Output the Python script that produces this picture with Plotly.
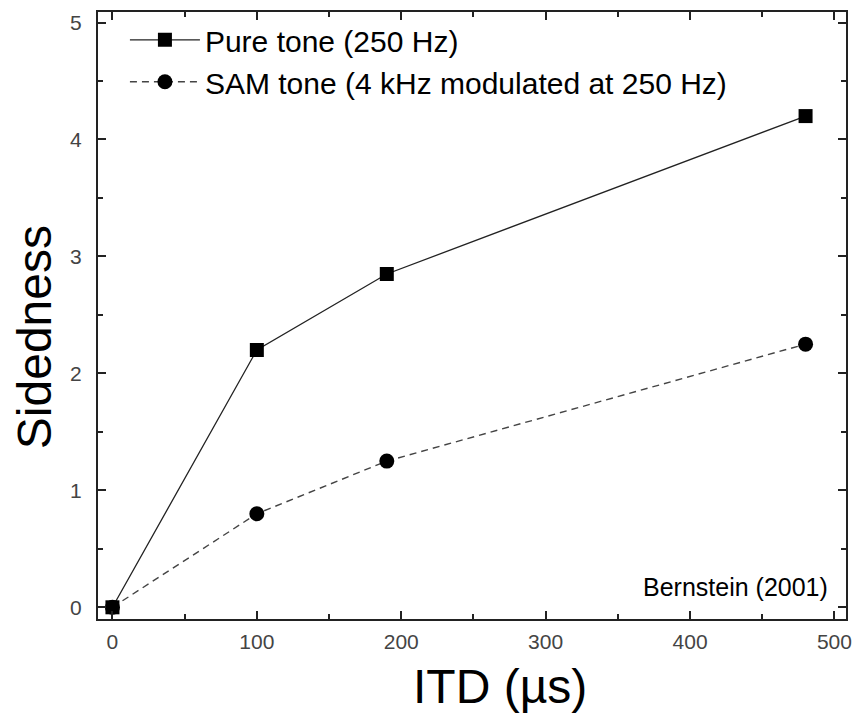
import plotly.graph_objects as go

# Interaural time difference (µs) and sidedness judgments
itd = [0, 100, 190, 480]
pure_tone = [0, 2.2, 2.85, 4.2]
sam_tone = [0, 0.8, 1.25, 2.25]

x_ticks = [0, 100, 200, 300, 400, 500]
y_ticks = [0, 1, 2, 3, 4, 5]

FONT = "Liberation Sans, Arial, sans-serif"

fig = go.Figure()
fig.add_trace(go.Scatter(
    x=itd, y=pure_tone, mode="lines+markers",
    name="Pure tone (250 Hz)",
    line=dict(color="#222222", width=1.3),
    marker=dict(symbol="square", size=14, color="black"),
))
fig.add_trace(go.Scatter(
    x=itd, y=sam_tone, mode="lines+markers",
    name="SAM tone (4 kHz modulated at 250 Hz)",
    line=dict(color="#444444", width=1.4, dash="7px,5px"),
    marker=dict(symbol="circle", size=15, color="black"),
))

axis_common = dict(
    showline=True, linecolor="#222222", linewidth=2, mirror="ticks",
    ticks="inside", ticklen=8, tickwidth=1.5, tickcolor="#222222",
    showgrid=False, zeroline=False,
    tickfont=dict(family=FONT, size=21, color="#444444"),
)

fig.update_xaxes(
    range=[-10, 508], tickvals=x_ticks,
    minor=dict(dtick=50, ticks="inside", ticklen=5, tickwidth=1.5, tickcolor="#222222"),
    ticklabelstandoff=3,
    **axis_common,
)
fig.update_yaxes(
    range=[-0.1, 5.09], tickvals=y_ticks,
    minor=dict(dtick=0.5, ticks="inside", ticklen=5, tickwidth=1.5, tickcolor="#222222"),
    ticklabelstandoff=10,
    **axis_common,
)

# Axis titles
fig.add_annotation(
    x=0.537, y=-0.112, xref="paper", yref="paper", xanchor="center", yanchor="middle",
    text="ITD (µs)", showarrow=False,
    font=dict(family=FONT, size=48, color="black"),
)
fig.add_annotation(
    x=-0.085, y=0.465, xref="paper", yref="paper", xanchor="center", yanchor="middle",
    text="Sidedness", showarrow=False, textangle=-90,
    font=dict(family=FONT, size=48, color="black"),
)

fig.add_annotation(
    x=0.978, y=0.052, xref="paper", yref="paper", xanchor="right", yanchor="middle",
    text="Bernstein (2001)", showarrow=False,
    font=dict(family=FONT, size=25, color="black"),
)

fig.update_layout(
    width=859, height=716,
    margin=dict(l=98, r=7, t=12, b=97),
    paper_bgcolor="white", plot_bgcolor="white",
    showlegend=True,
    legend=dict(
        x=0.036, y=0.997, xanchor="left", yanchor="top",
        bgcolor="rgba(0,0,0,0)", borderwidth=0,
        font=dict(family=FONT, size=30, color="black"),
        itemwidth=70, tracegroupgap=0,
    ),
)

fig.write_html("out.html")
